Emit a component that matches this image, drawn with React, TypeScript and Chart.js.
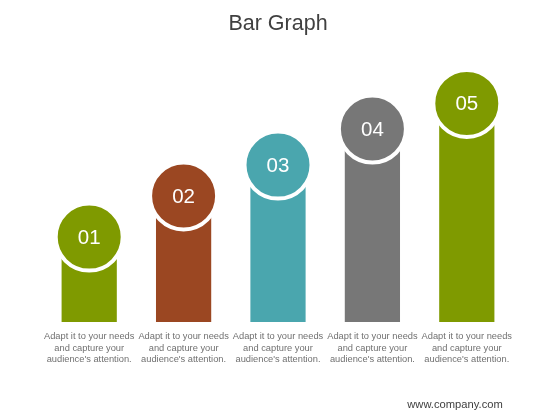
import { useEffect, useRef } from "react";
import { Chart, registerables } from "chart.js";

Chart.register(...registerables);

// chart data
const steps = ["01", "02", "03", "04", "05"];
const values = [33, 49, 61, 75, 85];
const colors = ["#7f9a00", "#9b4722", "#4aa6ae", "#777777", "#7f9a00"];
const caption = ["Adapt it to your needs", "and capture your", "audience's attention."];
const captions = steps.map(() => caption);

const FONT = "'Liberation Sans', Arial, sans-serif";

// draws the step numbers inside the circles and the footer text
const labelPlugin = {
  id: "stepLabels",
  afterDatasetsDraw(chart: any) {
    const { ctx } = chart;
    const meta = chart.getDatasetMeta(1);
    ctx.save();
    ctx.fillStyle = "#ffffff";
    ctx.font = `20.5px ${FONT}`;
    ctx.textAlign = "center";
    ctx.textBaseline = "middle";
    meta.data.forEach((pt: any, i: number) => {
      ctx.fillText(steps[i], pt.x, pt.y + 1);
    });
    ctx.fillStyle = "#404040";
    ctx.font = `11.2px ${FONT}`;
    ctx.fillText("www.company.com", 455, 405);
    ctx.restore();
  },
};

const App = () => {
  const canvasRef = useRef<HTMLCanvasElement>(null);

  useEffect(() => {
    document.body.style.margin = "0";
    if (!canvasRef.current) return;

    const chart = new Chart(canvasRef.current, {
      type: "bar",
      data: {
        labels: captions,
        datasets: [
          {
            type: "bar",
            data: values,
            backgroundColor: colors,
            barPercentage: 0.585,
            categoryPercentage: 1,
            order: 2,
          },
          {
            type: "line",
            data: values,
            showLine: false,
            pointRadius: 33.5,
            pointBackgroundColor: colors,
            pointBorderColor: "#ffffff",
            pointBorderWidth: 4,
            clip: false,
            order: 1,
          } as any,
        ],
      },
      options: {
        responsive: false,
        animation: false,
        layout: { padding: { left: 42, right: 46, top: 0, bottom: 0 } },
        plugins: {
          legend: { display: false },
          tooltip: { enabled: false },
          title: {
            display: true,
            text: "Bar Graph",
            color: "#404040",
            font: { family: FONT, size: 21.5, weight: "normal" },
            padding: { top: 11, bottom: 28 },
          },
        },
        scales: {
          x: {
            grid: { display: false, drawTicks: false },
            border: { display: false },
            ticks: {
              color: "#707070",
              font: { family: FONT, size: 9.3, lineHeight: 1.24 },
              padding: 9,
              maxRotation: 0,
              autoSkip: false,
            },
            afterFit: (scale: any) => {
              scale.height = 98;
            },
          },
          y: {
            display: false,
            min: 0,
            max: 100,
          },
        },
      },
      plugins: [labelPlugin],
    });

    return () => {
      chart.destroy();
    };
  }, []);

  return (
    <div style={{ width: 560, height: 420, background: "#ffffff" }}>
      <canvas ref={canvasRef} width={560} height={420}></canvas>
    </div>
  );
};

export default App;
